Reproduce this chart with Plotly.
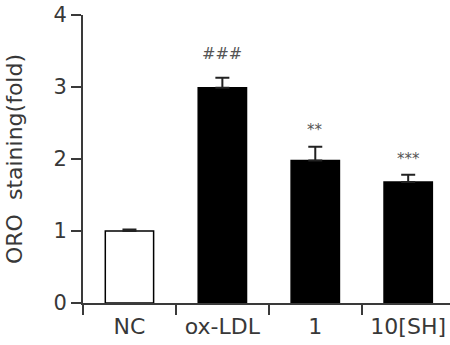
import plotly.graph_objects as go

categories = ["NC", "ox-LDL", "1", "10[SH]"]
values = [1.0, 2.99, 1.98, 1.68]
errors = [0.02, 0.14, 0.19, 0.10]
bar_colors = ["white", "black", "black", "black"]
marks = ["", "###", "**", "***"]
mark_y = [0, 3.46, 2.40, 2.00]
mark_size = [14, 16, 15, 15]
y_ticks = [0, 1, 2, 3, 4]

FONT = "DejaVu Sans, Liberation Sans, sans-serif"
AX = "#3a3a3a"
TXT = "#383838"

fig = go.Figure()
fig.add_trace(go.Bar(
    x=categories, y=values,
    width=0.52,
    marker=dict(color=bar_colors, line=dict(color="black", width=1.5)),
    error_y=dict(type="data", array=errors, arrayminus=[0]*len(errors),
                 symmetric=False, color="#222", thickness=2, width=7),
))

for i, (m, yv, sz) in enumerate(zip(marks, mark_y, mark_size)):
    if m:
        fig.add_annotation(x=i, y=yv, xref="x", yref="y", text=m, showarrow=False,
                           font=dict(family=FONT, size=sz, color="#555"))

fig.update_layout(
    width=450, height=345,
    margin=dict(l=83, r=0, t=15, b=42),
    plot_bgcolor="white", paper_bgcolor="white",
    showlegend=False,
    font=dict(family=FONT, size=21, color=TXT),
)
fig.update_xaxes(
    type="category", range=[-0.5, 3.45],
    showline=True, linecolor=AX, linewidth=2,
    ticks="outside", tickson="boundaries", ticklen=10, tickwidth=2, tickcolor=AX,
    showgrid=False, zeroline=False,
    tickfont=dict(size=22), ticklabelstandoff=3,
)
fig.update_yaxes(
    range=[0, 4], tickvals=y_ticks,
    showline=True, linecolor=AX, linewidth=2,
    ticks="outside", ticklen=10, tickwidth=2, tickcolor=AX,
    showgrid=False, zeroline=False,
    tickfont=dict(size=21),
    title=dict(text="ORO  staining(fold)", font=dict(size=22), standoff=25),
)

fig.write_html("out.html")
